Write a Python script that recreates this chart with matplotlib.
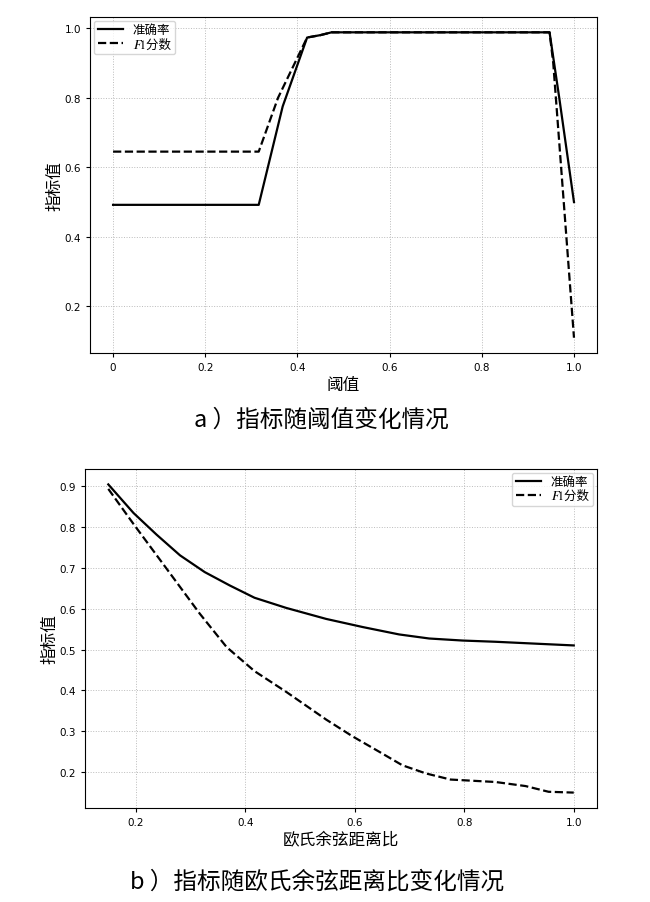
import matplotlib
matplotlib.use("Agg")
import matplotlib.pyplot as plt

plt.rcParams['font.family'] = ['DejaVu Sans', 'Noto Sans CJK SC']

# a) 指标随阈值变化
thr_acc = [0.0, 0.316, 0.368, 0.421, 0.45, 0.474, 0.947, 0.968, 1.0]
acc_a = [0.492, 0.492, 0.775, 0.973, 0.980, 0.988, 0.988, 0.800, 0.500]
thr_f1 = [0.0, 0.316, 0.358, 0.421, 0.45, 0.474, 0.947, 0.955, 1.0]
f1_a = [0.645, 0.645, 0.800, 0.973, 0.980, 0.988, 0.988, 0.900, 0.110]

# b) 指标随欧氏余弦距离比变化
ratio_acc = [0.15, 0.196, 0.238, 0.281, 0.326, 0.372, 0.417, 0.475, 0.548,
             0.615, 0.681, 0.736, 0.797, 0.857, 0.936, 1.0]
acc_b = [0.905, 0.835, 0.782, 0.731, 0.690, 0.657, 0.627, 0.602, 0.575,
         0.555, 0.537, 0.527, 0.522, 0.519, 0.514, 0.510]
ratio_f1 = [0.15, 0.196, 0.25, 0.317, 0.366, 0.417, 0.475, 0.548, 0.596,
            0.645, 0.687, 0.73, 0.775, 0.857, 0.912, 0.954, 1.0]
f1_b = [0.894, 0.808, 0.710, 0.588, 0.506, 0.447, 0.396, 0.328, 0.287,
        0.249, 0.216, 0.196, 0.181, 0.175, 0.165, 0.151, 0.149]

# 𝐹 = 数学斜体 F
labels = ['准确率', '\U0001D4391分数']
leg_font = dict(family=['STIXGeneral', 'Noto Sans CJK SC'], size=9)
cap_font = ['Noto Sans CJK SC', 'DejaVu Sans']

fig = plt.figure(figsize=(6.5, 9.03), dpi=100)
ax1 = fig.add_axes([0.1385, 0.608, 0.78, 0.372])
ax2 = fig.add_axes([0.1308, 0.1041, 0.7877, 0.3754])

ax1.plot(thr_acc, acc_a, 'k-', lw=1.6, label=labels[0])
ax1.plot(thr_f1, f1_a, 'k--', lw=1.6, label=labels[1])
ax1.set_xticks([0, 0.2, 0.4, 0.6, 0.8, 1.0])
ax1.set_xticklabels(['0', '0.2', '0.4', '0.6', '0.8', '1.0'])
ax1.set_yticks([0.2, 0.4, 0.6, 0.8, 1.0])
ax1.set_xlabel('阈值', fontsize=12, labelpad=2)
ax1.set_ylabel('指标值', fontsize=12, labelpad=1)
ax1.legend(loc='upper left', prop=leg_font, handlelength=2.0,
           borderpad=0.3, labelspacing=0.15, borderaxespad=0.3)

ax2.plot(ratio_acc, acc_b, 'k-', lw=1.6, label=labels[0])
ax2.plot(ratio_f1, f1_b, 'k--', lw=1.6, label=labels[1])
ax2.set_xticks([0.2, 0.4, 0.6, 0.8, 1.0])
ax2.set_yticks([0.2, 0.3, 0.4, 0.5, 0.6, 0.7, 0.8, 0.9])
ax2.set_xlabel('欧氏余弦距离比', fontsize=12, labelpad=2)
ax2.set_ylabel('指标值', fontsize=12, labelpad=1)
ax2.legend(loc='upper right', prop=leg_font, handlelength=2.0,
           borderpad=0.3, labelspacing=0.15, borderaxespad=0.3)

for ax in (ax1, ax2):
    ax.grid(True, linestyle=':', color='#bbbbbb', linewidth=0.7)
    ax.tick_params(labelsize=7.5, length=3)

fig.text(0.494, 1 - 420 / 903, 'a ）指标随阈值变化情况', ha='center', va='center',
         fontsize=17, family=cap_font, weight='medium')
fig.text(0.488, 1 - 882 / 903, 'b ）指标随欧氏余弦距离比变化情况', ha='center', va='center',
         fontsize=17, family=cap_font, weight='medium')

fig.savefig('out.png', dpi=100)
